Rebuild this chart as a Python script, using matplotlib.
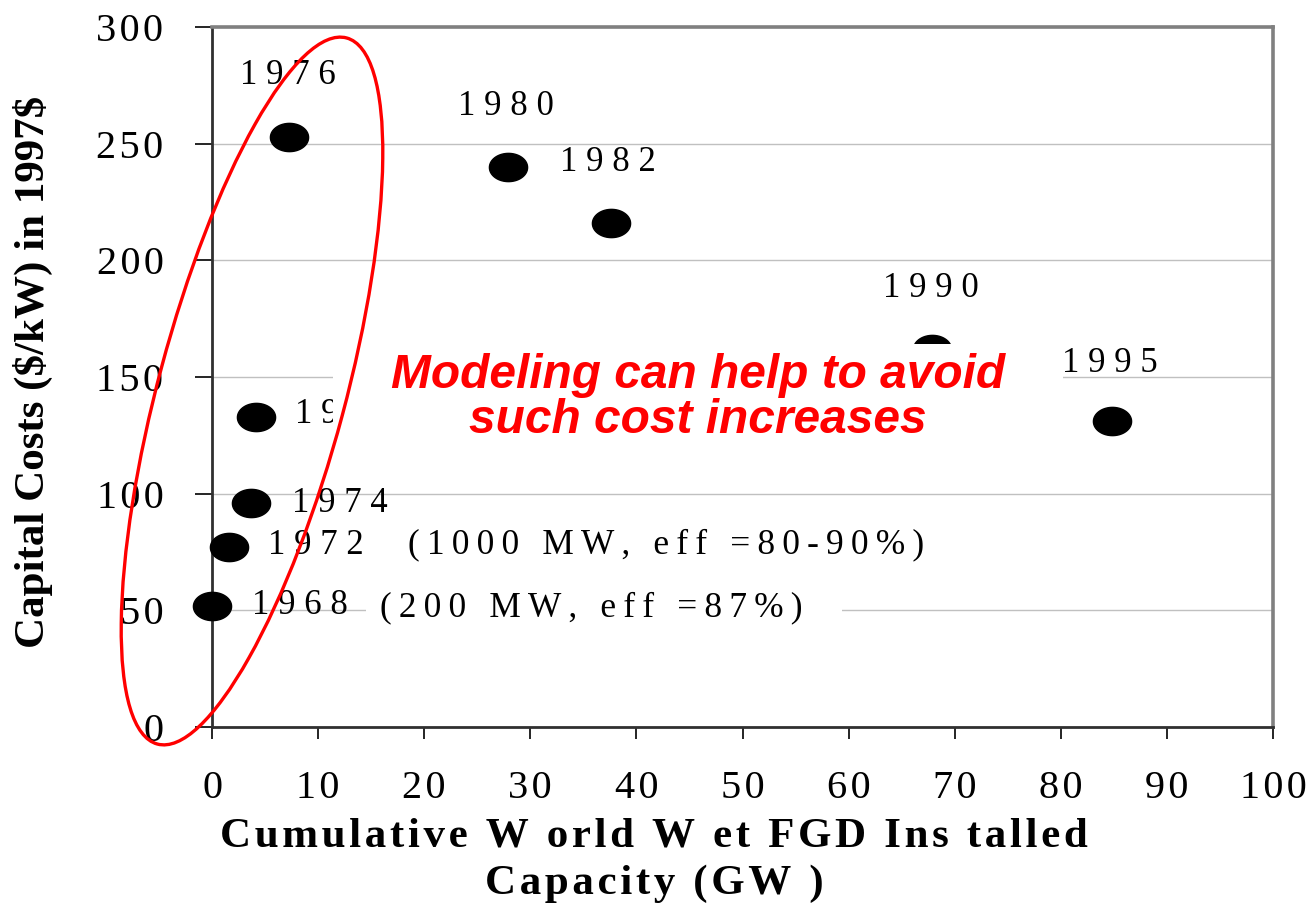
## Import Required Packages
import matplotlib.pyplot as plt
import numpy as np
from matplotlib.path import Path
from matplotlib.patches import Ellipse, Rectangle
from matplotlib.transforms import ScaledTranslation

## Data
years = ['1968', '1972', '1974', '1975', '1976', '1980', '1982', '1990', '1995']
capacity = [0.0, 1.6, 3.7, 4.1, 7.3, 27.9, 37.6, 67.9, 84.8]      # GW
cost = [52, 77, 96, 133, 253, 240, 216, 162, 131]                  # $/kW
# where each year label sits (left edge, vertical centre) in data units
label_x = [3.8, 5.3, 7.5, 7.8, 2.6, 23.2, 32.8, 63.2, 80.1]
label_y = [52, 78, 96, 134, 279, 266, 242, 188, 156]

notes = ['(1000 MW, eff =80-90%)', '(200 MW, eff =87%)']
note_x = [18.5, 15.8]
note_y = [78, 51]

xticks = list(range(0, 101, 10))
yticks = list(range(0, 301, 50))

SERIF = ['Liberation Serif', 'DejaVu Serif']
SANS = ['Liberation Sans', 'DejaVu Sans']


def spaced(s, sep='\u200a'):
    # fake the loose letter spacing of the original
    return sep.join(s)


fig = plt.figure(figsize=(13.13, 9.09), dpi=100)
ax = fig.add_axes([212 / 1313, 182 / 909, 1061 / 1313, 700 / 909])
ax.set_xlim(0, 100)
ax.set_ylim(0, 300)

# axes frame
for side in ['top', 'right']:
    ax.spines[side].set_color('#808080')
    ax.spines[side].set_linewidth(2.6)
for side in ['left', 'bottom']:
    ax.spines[side].set_color('#303030')
    ax.spines[side].set_linewidth(2.0)

ax.set_xticks(xticks)
ax.set_xticklabels([spaced(str(t)) for t in xticks], family=SERIF)
ax.set_yticks(yticks)
ax.set_yticklabels([spaced(str(t)) for t in yticks], family=SERIF)
ax.tick_params(axis='y', direction='out', length=12, width=1.2, pad=23, labelsize=29)
ax.tick_params(axis='x', direction='out', length=8.6, width=1.2, pad=22, labelsize=29)
ax.yaxis.grid(True, color='#c0c0c0', lw=1)
ax.set_axisbelow(True)

# wide ellipse marker like the original bullets
t = np.linspace(0, 2 * np.pi, 80)
blob = Path(np.column_stack([np.cos(t), 0.74 * np.sin(t)]), closed=True)
ax.plot(capacity, cost, ls='none', marker=blob, ms=27.5, color='black', zorder=3, clip_on=False)

for yr, lx, ly in zip(years, label_x, label_y):
    ax.text(lx, ly, spaced(yr, ' '), family=SERIF, fontsize=25, ha='left', va='center', zorder=3)

for nt, nx, ny in zip(notes, note_x, note_y):
    ax.text(nx, ny, spaced(nt, '\u2009'), family=SERIF, fontsize=25.5, ha='left', va='center', zorder=5)

# white boxes behind the notes (they hide grid lines and parts of marks)
ax.add_patch(Rectangle((11.4, 118.5), 68.8, 45.7, facecolor='white', edgecolor='none', zorder=4))
ax.add_patch(Rectangle((14.5, 45), 44.9, 12, facecolor='white', edgecolor='none', zorder=2))

ax.text(45.8, 141, 'Modeling can help to avoid\nsuch cost increases', color='red',
        family=SANS, fontsize=34.5, fontweight='bold', fontstyle='italic',
        ha='center', va='center', linespacing=0.98, zorder=5)

# red ring around the early years (size in inches, centred on a data point)
ring = Ellipse((0, 0), width=1.87, height=7.31, angle=-15, fill=False, edgecolor='red', lw=2.4,
               transform=fig.dpi_scale_trans + ScaledTranslation(3.77, 144, ax.transData),
               clip_on=False, zorder=6)
ax.add_patch(ring)

fig.text(654 / 1313, 1 - 860 / 909,
         spaced('Cumulative W orld W et FGD Ins talled') + '\n' + spaced('Capacity (GW )'),
         family=SERIF, fontsize=31, fontweight='bold', ha='center', va='center',
         multialignment='center', linespacing=1.32)
fig.text(33 / 1313, 1 - 372 / 909, r'Capital Costs (\$/kW) in 1997\$', family=SERIF,
         fontsize=31, fontweight='bold', rotation=90, ha='center', va='center')

fig.savefig('out.png', dpi=100, facecolor='white')
